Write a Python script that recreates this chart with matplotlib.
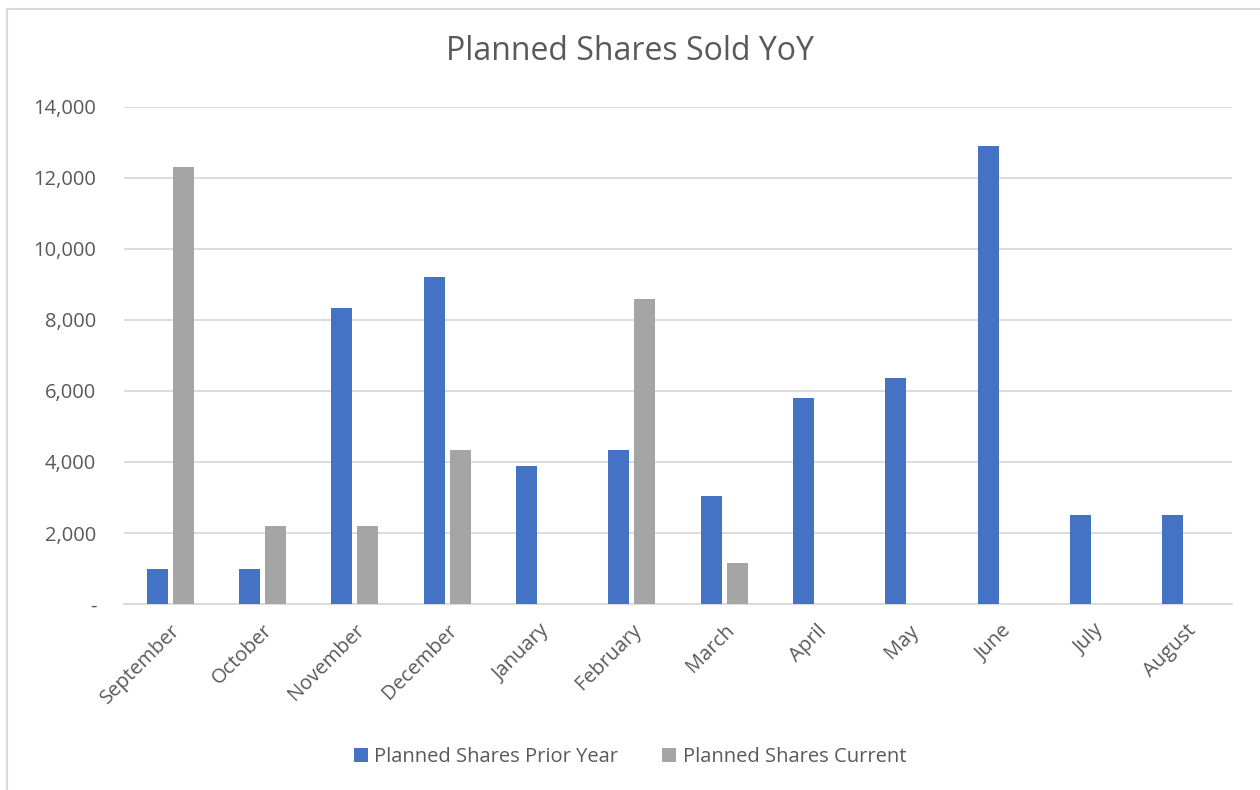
import numpy as np
import matplotlib.pyplot as plt
from matplotlib.patches import Rectangle
from matplotlib.ticker import FuncFormatter

months = ['September', 'October', 'November', 'December', 'January', 'February',
          'March', 'April', 'May', 'June', 'July', 'August']
prior_year = [1000, 1000, 8350, 9200, 3900, 4330, 3050, 5800, 6380, 12900, 2500, 2500]
current = [12300, 2200, 2200, 4330, 0, 8600, 1150, 0, 0, 0, 0, 0]

blue = '#4472C4'
grey = '#A5A5A5'
text_col = '#595959'

plt.rcParams['font.family'] = ['Open Sans', 'DejaVu Sans']

fig = plt.figure(figsize=(12.6, 7.9), dpi=100)
# chart border like the spreadsheet frame
fig.patches.append(Rectangle((7 / 1260, -0.01), 1.02, 1 - 9 / 790 + 0.01,
                             transform=fig.transFigure, fill=False,
                             edgecolor='#D9D9D9', linewidth=1.5))

ax = fig.add_axes([124 / 1260, 1 - 604 / 790, 1108 / 1260, 497 / 790])

x = np.arange(len(months))
w = 0.227
ax.bar(x - 0.14, prior_year, w, color=blue, label='Planned Shares Prior Year', zorder=3)
ax.bar(x + 0.14, current, w, color=grey, label='Planned Shares Current', zorder=3)

ax.set_xlim(-0.5, len(months) - 0.5)
ax.set_ylim(0, 14000)
ax.set_yticks(np.arange(0, 14001, 2000))
ax.yaxis.set_major_formatter(FuncFormatter(lambda v, p: '-' if v == 0 else f'{v:,.0f}'))
ax.grid(axis='y', color='#D9D9D9', linewidth=1.3, zorder=0)
for s in ['top', 'right', 'left']:
    ax.spines[s].set_visible(False)
ax.spines['bottom'].set_color('#D9D9D9')
ax.spines['bottom'].set_linewidth(1.3)
ax.tick_params(axis='both', length=0, labelsize=14.5, colors=text_col)
ax.tick_params(axis='y', pad=20)

ax.set_xticks(x)
ax.set_xticklabels(months, rotation=45, ha='right', rotation_mode='anchor')
ax.tick_params(axis='x', pad=12)

fig.text(0.5, 1 - 52 / 790, 'Planned Shares Sold YoY', ha='center', va='center',
         fontsize=23, color=text_col)

fig.legend(loc='center', bbox_to_anchor=(0.5, 1 - 757 / 790), ncol=2, frameon=False,
           fontsize=14.5, labelcolor=text_col, handlelength=0.7, handleheight=0.7,
           handletextpad=0.3, columnspacing=2.2)

fig.savefig('out.png', dpi=100)
